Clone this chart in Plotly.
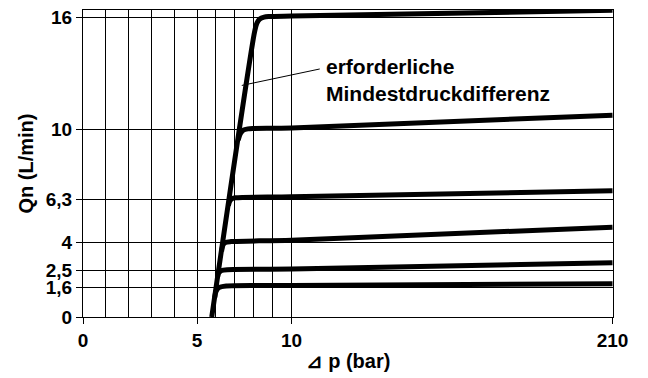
import plotly.graph_objects as go

# ---------------- data (Δp in bar, Qn in L/min) ----------------
x_tick_vals = [0, 5, 10, 210]
x_tick_text = ["0", "5", "10", "210"]
x_minor_grid = [1, 2, 3, 4, 6, 7, 8, 9]

y_tick_vals = [0, 1.6, 2.5, 4, 6.3, 10, 16]
y_tick_text = ["0", "1,6", "2,5", "4", "6,3", "10", "16"]

# steep line (required minimum differential pressure) merging into the 16 L/min curve
q16_dp = [5.78, 8.05, 8.17, 8.32, 8.55, 8.8, 10, 210]
q16_q = [0.0, 15.25, 15.7, 15.92, 16.02, 16.05, 16.08, 16.38]

q10_dp = [7.18, 7.3, 7.45, 7.7, 7.95, 10, 210]
q10_q = [9.45, 9.8, 9.98, 10.05, 10.07, 10.1, 10.78]

q63_dp = [6.66, 6.74, 6.86, 7.05, 10, 210]
q63_q = [5.95, 6.2, 6.33, 6.37, 6.42, 6.74]

q4_dp = [6.3, 6.38, 6.5, 6.8, 10, 210]
q4_q = [3.5, 3.85, 3.98, 4.03, 4.1, 4.8]

q25_dp = [6.08, 6.15, 6.3, 6.6, 10, 210]
q25_q = [2.1, 2.35, 2.48, 2.53, 2.56, 2.9]

q16s_dp = [5.94, 6.0, 6.15, 6.55, 10, 210]
q16s_q = [1.05, 1.35, 1.57, 1.66, 1.68, 1.78]

curves = [
    (q16_dp, q16_q),
    (q10_dp, q10_q),
    (q63_dp, q63_q),
    (q4_dp, q4_q),
    (q25_dp, q25_q),
    (q16s_dp, q16s_q),
]

label_text = "erforderliche<br>Mindestdruckdifferenz"
leader_dp = [7.37, 27.6]
leader_q = [12.37, 13.25]
label_dp, label_q = 30.0, 12.65


# ---------------- custom (piecewise) Δp scale ----------------
def to_u(b):
    if b <= 5:
        return b * 22.8
    if b <= 10:
        return 114 + (b - 5) * 18.9
    return 208.5 + (b - 10) * 321.0 / 200.0


fig = go.Figure()

for dp, q in curves:
    fig.add_trace(go.Scatter(
        x=[to_u(v) for v in dp], y=q, mode="lines",
        line=dict(color="black", width=5, shape="spline", smoothing=0.8),
        hoverinfo="skip", showlegend=False,
    ))

fig.add_trace(go.Scatter(
    x=[to_u(v) for v in leader_dp], y=leader_q, mode="lines",
    line=dict(color="black", width=1), hoverinfo="skip", showlegend=False,
))

fig.add_annotation(
    x=to_u(label_dp), y=label_q, xref="x", yref="y",
    text="<b>" + label_text + "</b>", showarrow=False,
    xanchor="left", yanchor="middle", align="left",
    font=dict(family="Liberation Sans, Arial", size=21, color="black"),
)

font_ticks = dict(family="Liberation Sans, Arial", size=19, color="black")
font_title = dict(family="Liberation Sans, Arial", size=20, color="black")

fig.update_xaxes(
    range=[0, 530],
    tickmode="array",
    tickvals=[to_u(v) for v in x_tick_vals],
    ticktext=["<b>" + t + "</b>" for t in x_tick_text],
    ticks="outside", ticklen=6, tickcolor="black",
    tickfont=font_ticks,
    showgrid=True, gridcolor="black", gridwidth=1,
    minor=dict(tickvals=[to_u(v) for v in x_minor_grid], showgrid=True,
               gridcolor="black", gridwidth=1, ticks=""),
    showline=True, linecolor="black", linewidth=1, mirror=True,
    zeroline=False,
    title=dict(text="<b>⊿ p (bar)</b>", font=font_title, standoff=4),
)

fig.update_yaxes(
    range=[0, 16.40],
    tickmode="array",
    tickvals=y_tick_vals,
    ticktext=["<b>" + t + "</b>" for t in y_tick_text],
    ticks="outside", ticklen=6, tickcolor="black",
    tickfont=font_ticks,
    showgrid=True, gridcolor="black", gridwidth=1,
    showline=True, linecolor="black", linewidth=1, mirror=True,
    zeroline=False,
    title=dict(text="<b>Qn (L/min)</b>", font=font_title, standoff=6),
)

fig.update_layout(
    width=648, height=378, autosize=False,
    margin=dict(l=83, r=35, t=7, b=61),
    paper_bgcolor="white", plot_bgcolor="white",
)

fig.write_html(
    "out.html",
    config={"displayModeBar": False},
    post_script="document.body.style.margin='0px';",
)
